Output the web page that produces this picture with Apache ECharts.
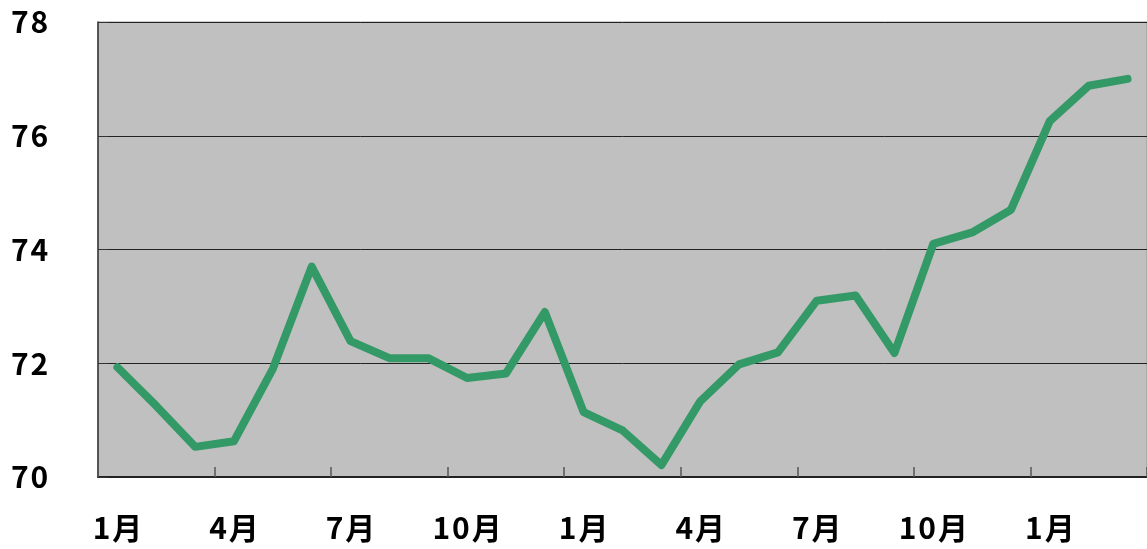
<!DOCTYPE html>
<html>
<head>
<meta charset="utf-8">
<script src="https://cdn.jsdelivr.net/npm/echarts@6/dist/echarts.min.js"></script>
<style>
  html, body { margin: 0; padding: 0; background: #fff; }
  #main { width: 1147px; height: 549px; }
</style>
</head>
<body>
<div id="main"></div>
<script>
// 月份（27か月）
var months = ['1月', '2月', '3月', '4月', '5月', '6月', '7月', '8月', '9月', '10月', '11月', '12月',
  '1月', '2月', '3月', '4月', '5月', '6月', '7月', '8月', '9月', '10月', '11月', '12月',
  '1月', '2月', '3月']
// 値
var values = [71.93, 71.25, 70.53, 70.63, 71.9, 73.7, 72.39, 72.09, 72.09, 71.74, 71.82, 72.9,
  71.14, 70.82, 70.21, 71.33, 71.98, 72.19, 73.1, 73.19, 72.18, 74.1, 74.3, 74.7,
  76.26, 76.88, 77.0]
var yTicks = [70, 72, 74, 76, 78]

// 数字の間を少し空ける（元図の等幅フォント風）
function spaced (s) {
  return s.split('').join('\u200a')
}

var labelFont = {
  fontFamily: 'Noto Sans CJK JP',
  fontSize: 30,
  fontWeight: 'bold',
  color: '#000'
}

var chart = echarts.init(document.getElementById('main'))
var option = {
  animation: false,
  grid: {
    left: 98,
    right: 0,
    top: 22,
    bottom: 72,
    show: true,
    backgroundColor: '#c0c0c0',
    borderColor: '#999',
    borderWidth: 1
  },
  xAxis: {
    type: 'category',
    data: months,
    boundaryGap: true,
    axisLine: { lineStyle: { color: '#222', width: 2 } },
    axisTick: { show: true, inside: true, length: 10, interval: 2, lineStyle: { color: '#555', width: 1.5 } },
    axisLabel: Object.assign({ interval: 2, margin: 36, formatter: spaced }, labelFont),
    splitLine: { show: false }
  },
  yAxis: {
    type: 'value',
    min: yTicks[0],
    max: yTicks[yTicks.length - 1],
    interval: 2,
    axisLine: { show: true, lineStyle: { color: '#333', width: 1.5 } },
    axisTick: { show: true, inside: true, length: 10, lineStyle: { color: '#333' } },
    axisLabel: Object.assign({ margin: 87, align: 'left', formatter: function (v) { return spaced(String(v)) } }, labelFont),
    splitLine: { show: true, lineStyle: { color: '#222', width: 1 } }
  },
  series: [{
    type: 'line',
    data: values,
    symbol: 'none',
    lineStyle: { color: '#339966', width: 8, cap: 'round', join: 'round' }
  }]
}
chart.setOption(option)
</script>
</body>
</html>
